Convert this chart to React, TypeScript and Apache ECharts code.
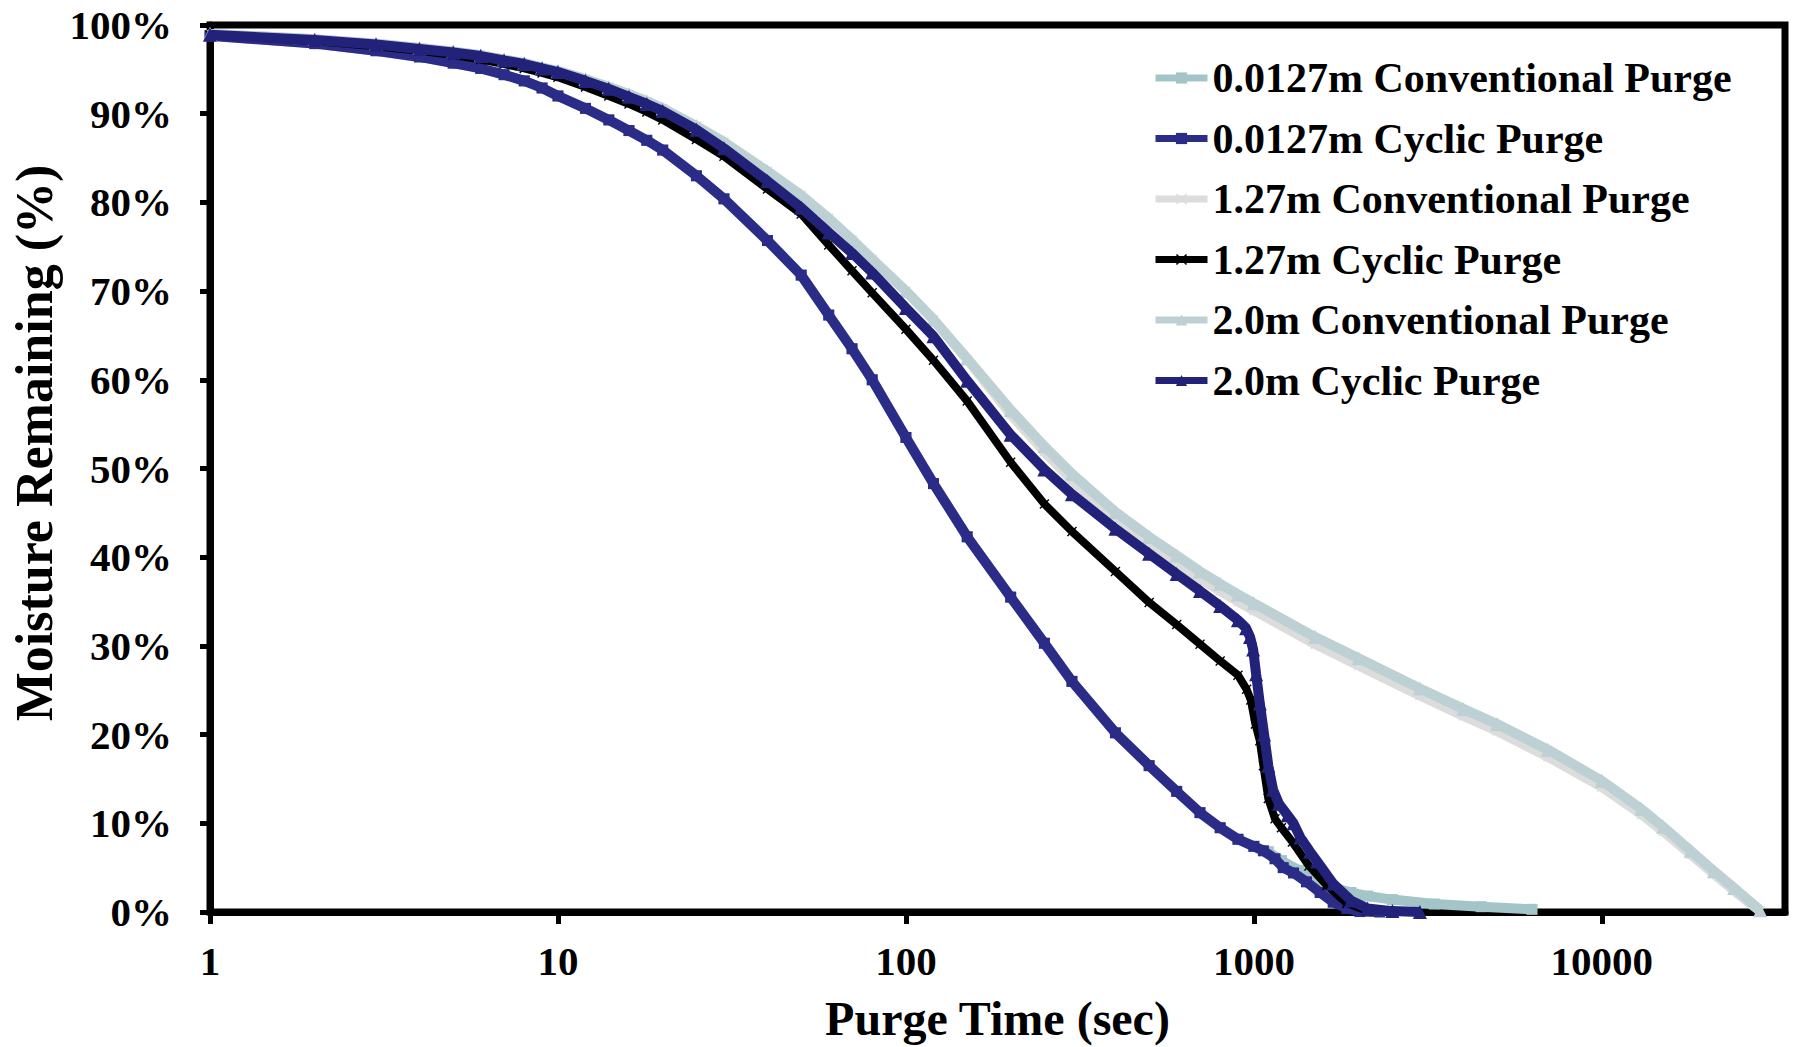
import React, { useEffect, useRef } from "react";
import * as echarts from "echarts";

const FONT = '"Liberation Serif", "Times New Roman", serif';

const SERIES_NAMES = [
  "0.0127m Conventional Purge",
  "0.0127m Cyclic Purge",
  "1.27m Conventional Purge",
  "1.27m Cyclic Purge",
  "2.0m Conventional Purge",
  "2.0m Cyclic Purge",
];

const X_TICKS = [1, 10, 100, 1000, 10000];
const Y_TICKS = [0, 10, 20, 30, 40, 50, 60, 70, 80, 90, 100];

// shared early purge times (sec)
const T_LOW = [1, 2, 3, 4, 5, 6, 7, 8, 9, 10, 12, 14, 16, 18, 20, 25, 30, 40, 50, 60, 70, 80, 100, 120, 150, 200, 250, 300, 400, 500, 600, 700, 800, 900];

// 0.0127m Cyclic Purge (moisture remaining, %)
const cyc0127Low = [98.8, 97.9, 97.1, 96.4, 95.7, 95.1, 94.4, 93.7, 92.9, 92.0, 90.6, 89.3, 88.1, 87.0, 85.9, 83.0, 80.4, 75.7, 71.8, 67.3, 63.5, 60.0, 53.5, 48.3, 42.3, 35.5, 30.3, 26.0, 20.2, 16.5, 13.6, 11.2, 9.5, 8.2];
const cyc0127TailT = [1000, 1065, 1150, 1214, 1300, 1416, 1550, 1690, 1850, 2017, 2300];
const cyc0127TailV = [7.4, 6.9, 6.0, 5.0, 4.4, 3.4, 2.2, 1.1, 0.4, 0.05, 0.0];

// 0.0127m Conventional Purge
const conv0127Low = [98.8, 97.9, 97.1, 96.4, 95.7, 95.1, 94.4, 93.7, 92.9, 92.0, 90.6, 89.3, 88.1, 87.0, 85.9, 83.0, 80.4, 75.7, 71.8, 67.3, 63.5, 60.0, 53.5, 48.3, 42.3, 35.5, 30.3, 26.0, 20.2, 16.5, 13.6, 11.2, 9.5, 8.2];
const conv0127TailT = [1000, 1100, 1200, 1350, 1500, 1690, 1900, 2120, 2500, 3300, 4500, 6300];
const conv0127TailV = [7.4, 6.8, 5.8, 4.7, 3.8, 2.8, 2.2, 1.8, 1.4, 0.9, 0.6, 0.3];

// 2.0m Conventional Purge
const conv20Low = [99.0, 98.4, 97.9, 97.4, 97.0, 96.6, 96.1, 95.7, 95.2, 94.8, 93.9, 93.0, 92.2, 91.4, 90.6, 88.6, 86.8, 83.5, 80.8, 78.2, 75.8, 73.6, 70.0, 66.8, 62.4, 56.6, 52.5, 49.4, 45.1, 42.3, 40.2, 38.4, 37.0, 35.8];
const convTailT = [1000, 1500, 2000, 3000, 4000, 5000, 7000, 10000, 13000, 15000, 18000, 21000, 24000, 28500];
const conv20TailV = [34.8, 31.0, 28.6, 25.2, 22.9, 21.2, 18.3, 14.8, 11.6, 9.6, 6.9, 4.6, 2.7, 0.2];

// 1.27m Conventional Purge
const conv127Low = [99.0, 98.4, 97.9, 97.4, 97.0, 96.6, 96.1, 95.7, 95.2, 94.8, 93.9, 93.0, 92.2, 91.4, 90.6, 88.6, 86.8, 83.5, 80.8, 78.2, 75.8, 73.6, 70.0, 66.8, 62.3, 56.1, 51.9, 48.7, 44.3, 41.5, 39.4, 37.6, 36.2, 35.0];
const conv127TailV = [34.0, 30.2, 27.8, 24.4, 22.1, 20.4, 17.5, 14.1, 11.0, 9.1, 6.5, 4.3, 2.4, 0.1];

// 1.27m Cyclic Purge
const cyc127Low = [98.9, 98.2, 97.6, 97.1, 96.6, 96.1, 95.6, 95.1, 94.6, 94.1, 93.0, 92.0, 91.1, 90.2, 89.3, 87.1, 85.2, 81.5, 78.7, 75.2, 72.3, 69.8, 65.7, 62.2, 57.6, 50.7, 46.0, 42.9, 38.4, 34.9, 32.4, 30.2, 28.3, 26.7];
const cyc127TailT = [953, 980, 1010, 1040, 1065, 1100, 1150, 1200, 1290, 1440, 1620, 1850, 2120];
const cyc127TailV = [25.1, 23.9, 21.2, 19.3, 16.5, 12.8, 10.5, 9.5, 7.9, 5.2, 3.0, 1.0, 0.1];

// 2.0m Cyclic Purge
const cyc20Low = [98.9, 98.3, 97.8, 97.3, 96.9, 96.5, 96.0, 95.6, 95.1, 94.7, 93.7, 92.8, 91.9, 91.1, 90.3, 88.2, 86.1, 82.4, 79.4, 76.6, 74.3, 72.1, 68.1, 64.9, 59.9, 53.8, 49.9, 47.1, 43.2, 40.4, 38.1, 36.2, 34.5, 32.9];
const cyc20TailT = [950, 975, 995, 1015, 1040, 1070, 1100, 1135, 1180, 1250, 1300, 1360, 1450, 1520, 1690, 1900, 2120, 2500, 3000];
const cyc20TailV = [32.0, 31.0, 29.6, 26.8, 23.5, 20.0, 16.5, 13.8, 12.2, 10.9, 10.0, 8.4, 6.8, 5.7, 3.2, 1.3, 0.4, 0.1, 0.0];

const COLORS = ["#a3c5c7", "#2b2b88", "#dcdcdc", "#000000", "#bdd0d3", "#22227a"];
const X_MARK = "path://M0,1L1,0L5,4L9,0L10,1L6,5L10,9L9,10L5,6L1,10L0,9L4,5Z";
const SYMBOLS = ["rect", "rect", X_MARK, X_MARK, "triangle", "triangle"];
const SYMBOL_SIZES = [11, 11, 10, 10, 14, 14];
const LINE_WIDTHS = [10, 10, 10, 8, 10, 10];

function zip(t: number[], v: number[]) {
  return t.map((x, i) => [x, v[i]]);
}

export default function App() {
  const ref = useRef<HTMLDivElement>(null);
  useEffect(() => {
    const chart = echarts.init(ref.current!, null, { renderer: "svg" });
    const datasets = [
      zip(T_LOW.concat(conv0127TailT), conv0127Low.concat(conv0127TailV)),
      zip(T_LOW.concat(cyc0127TailT), cyc0127Low.concat(cyc0127TailV)),
      zip(T_LOW.concat(convTailT), conv127Low.concat(conv127TailV)),
      zip(T_LOW.concat(cyc127TailT), cyc127Low.concat(cyc127TailV)),
      zip(T_LOW.concat(convTailT), conv20Low.concat(conv20TailV)),
      zip(T_LOW.concat(cyc20TailT), cyc20Low.concat(cyc20TailV)),
    ];
    const labelStyle = { fontFamily: FONT, fontWeight: "bold" as const, fontSize: 41, color: "#000" };
    chart.setOption({
      animation: false,
      backgroundColor: "#fff",
      grid: { left: 210, right: 13, top: 25, bottom: 134, show: true, borderColor: "#000", borderWidth: 7 },
      legend: {
        orient: "vertical",
        left: 1147,
        top: 52,
        itemWidth: 52,
        itemHeight: 14,
        itemGap: 18.5,
        data: SERIES_NAMES,
        lineStyle: { width: 7 },
        textStyle: { fontFamily: FONT, fontWeight: "bold", fontSize: 42, color: "#000", lineHeight: 42 },
      },
      xAxis: {
        type: "log",
        logBase: 10,
        min: X_TICKS[0],
        max: 33600,
        name: "Purge Time (sec)",
        nameLocation: "middle",
        nameGap: 82,
        nameTextStyle: { fontFamily: FONT, fontWeight: "bold", fontSize: 48, color: "#000" },
        axisLine: { show: true, lineStyle: { color: "#000", width: 7 } },
        axisTick: { show: true, inside: false, length: 12, lineStyle: { color: "#000", width: 5 } },
        axisLabel: {
          ...labelStyle,
          margin: 28,
          showMaxLabel: false,
          formatter: (v: number) => {
            const r = Math.round(v);
            return X_TICKS.includes(r) ? String(r) : "";
          },
        },
        splitLine: { show: false },
      },
      yAxis: {
        type: "value",
        min: Y_TICKS[0],
        max: Y_TICKS[Y_TICKS.length - 1],
        interval: 10,
        axisLine: { show: true, lineStyle: { color: "#000", width: 7 } },
        axisTick: { show: true, inside: false, length: 10, lineStyle: { color: "#000", width: 5 } },
        axisLabel: { ...labelStyle, margin: 38, formatter: "{value}%" },
        splitLine: { show: false },
      },
      graphic: [
        {
          type: "text",
          x: 34,
          y: 443,
          rotation: Math.PI / 2,
          style: {
            text: "Moisture Remaining (%)",
            font: `bold 52px ${FONT}`,
            fill: "#000",
            textAlign: "center",
            textVerticalAlign: "middle",
          },
        },
      ],
      series: SERIES_NAMES.map((name, i) => ({
        name,
        type: "line",
        data: datasets[i],
        color: COLORS[i],
        symbol: SYMBOLS[i],
        symbolSize: SYMBOL_SIZES[i],
        showSymbol: true,
        lineStyle: { width: LINE_WIDTHS[i], color: COLORS[i] },
        itemStyle: { color: COLORS[i] },
        z: 2 + i,
      })),
    });
    return () => chart.dispose();
  }, []);
  return <div ref={ref} style={{ position: "fixed", left: 0, top: 0, width: 1798, height: 1047 }} />;
}
